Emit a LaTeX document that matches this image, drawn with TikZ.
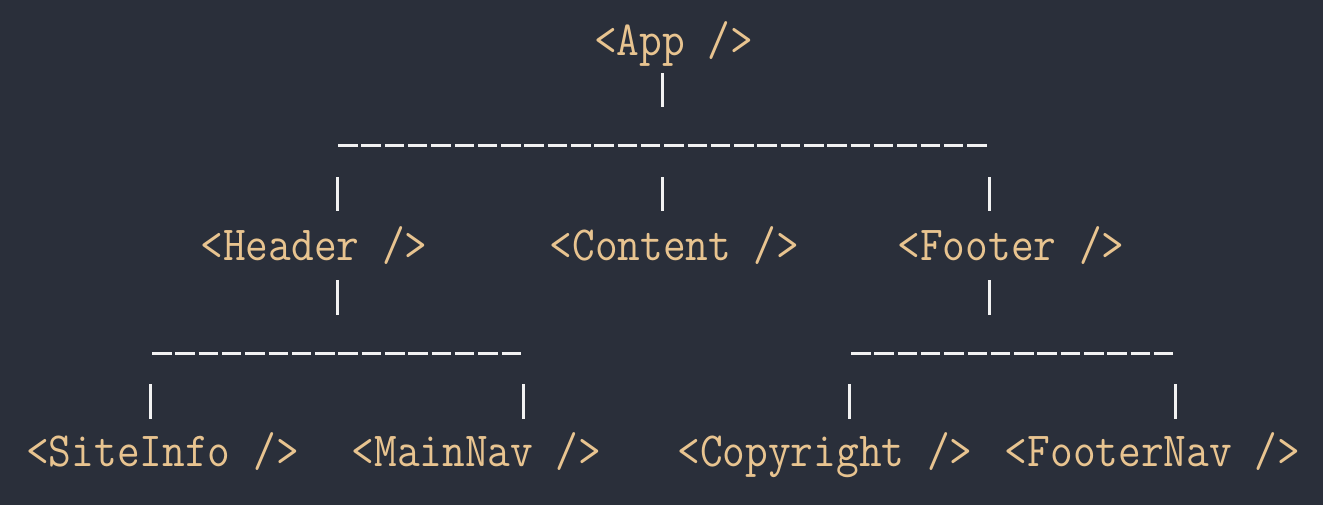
\documentclass[tikz,border=0pt]{standalone}
\usepackage{fontspec}
\newfontfamily\tagfont{Latin Modern Mono}[FakeStretch=0.9]
\definecolor{bgc}{HTML}{2A2F3A}
\definecolor{tagc}{HTML}{E8C490}
\definecolor{linec}{HTML}{F2F2F2}
\begin{document}
\begin{tikzpicture}[x=0.5pt,y=-0.5pt,
  tagnode/.style={text=tagc,font=\tagfont\fontsize{24.5}{24.5}\selectfont,inner sep=0pt,anchor=base},
  pipe/.style={draw=linec,line width=1.5pt},
  bar/.style={draw=linec,line width=1.5pt,dash pattern=on 9.75pt off 1.9pt}]
\fill[bgc] (0,0) rectangle (1323,505);
\useasboundingbox (0,0) rectangle (1323,505);
% tags
\node[tagnode] (app) at (673.5,55) {<App />};
\node[tagnode] (header) at (314,260.5) {<Header />};
\node[tagnode] (content) at (674.5,260.5) {<Content />};
\node[tagnode] (footer) at (1011,260.5) {<Footer />};
\node[tagnode] (siteinfo) at (162.5,466) {<SiteInfo />};
\node[tagnode] (mainnav) at (476.5,466) {<MainNav />};
\node[tagnode] (copyright) at (825,466) {<Copyright />};
\node[tagnode] (footernav) at (1152.5,466) {<FooterNav />};
% bars
\coordinate (barAL) at (338,145);
\coordinate (barAR) at (988,145);
\coordinate (barHL) at (152,353);
\coordinate (barHR) at (522,353);
\coordinate (barFL) at (851,353);
\coordinate (barFR) at (1174,353);
\draw[bar] (barAL) -- (barAR);
\draw[bar] (barHL) -- (barHR);
\draw[bar] (barFL) -- (barFR);
% pipes
\coordinate (pA1) at (662,73);  \coordinate (pA2) at (662,107);
\coordinate (pB1) at (337,177); \coordinate (pB2) at (337,211);
\coordinate (pC1) at (662,177); \coordinate (pC2) at (662,211);
\coordinate (pD1) at (989,177); \coordinate (pD2) at (989,211);
\coordinate (pE1) at (337,280); \coordinate (pE2) at (337,315);
\coordinate (pF1) at (989,280); \coordinate (pF2) at (989,315);
\coordinate (pG1) at (150,384); \coordinate (pG2) at (150,419);
\coordinate (pH1) at (523,384); \coordinate (pH2) at (523,419);
\coordinate (pI1) at (849,384); \coordinate (pI2) at (849,419);
\coordinate (pJ1) at (1175,384); \coordinate (pJ2) at (1175,419);
\foreach \p in {A,B,C,D,E,F,G,H,I,J}{\draw[pipe] (p\p1) -- (p\p2);}
\end{tikzpicture}
\end{document}
